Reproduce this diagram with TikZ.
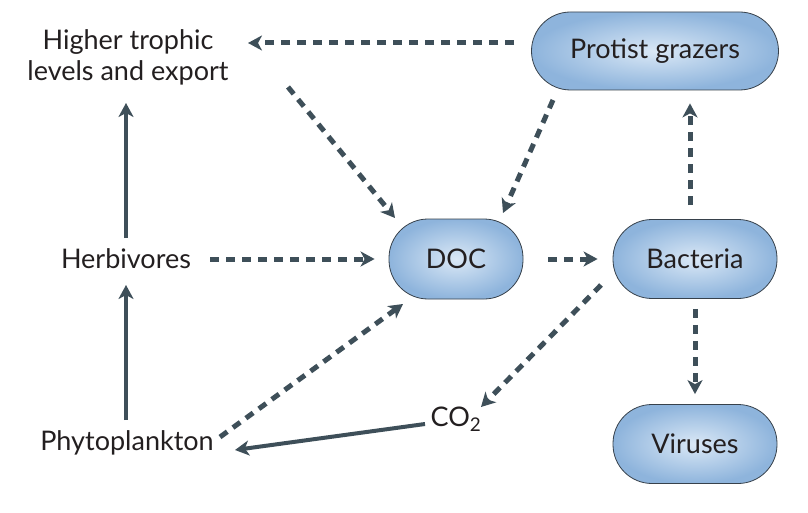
\documentclass[tikz,border=0pt]{standalone}
\usepackage{fontspec}
\setmainfont{Lato}
\usetikzlibrary{arrows.meta,calc}
\definecolor{flowgrey}{RGB}{62,79,89}
\definecolor{boxline}{RGB}{55,65,75}
\definecolor{boxin}{RGB}{218,232,246}
\definecolor{boxout}{RGB}{142,180,220}
\definecolor{ink}{RGB}{35,31,32}

\begin{document}
\begin{tikzpicture}[x=1pt,y=-1pt,
    pool/.style={draw=boxline, line width=0.8pt, rounded corners=39pt,
      shading=radial, inner color=boxin, outer color=boxout,
      minimum width=164pt, minimum height=79pt, text=ink,
      font=\fontsize{27}{31}\selectfont},
    plain/.style={text=ink, align=center, font=\fontsize{27}{31}\selectfont},
    flow/.style={draw=flowgrey, line width=4pt,
      -{Stealth[length=14pt,width=15pt,inset=4pt]}},
    dflow/.style={flow, line width=5pt, dash pattern=on 9pt off 7pt}]
    \useasboundingbox (0,0) rectangle (808,513);

    % boxes
    \node[pool, minimum width=247pt, minimum height=78pt] (protist) at (655,51) {Protist grazers};
    \node[pool, minimum width=134pt, minimum height=80pt] (doc) at (456,259) {DOC};
    \node[pool] (bact) at (695,259) {Bacteria};
    \node[pool] (viruses) at (695,444) {Viruses};

    % free text
    \node[plain] (higher) at (128,57) {Higher trophic\\levels and export};
    \node[plain] (herb) at (126,259) {Herbivores};
    \node[plain] (phyto) at (127,443) {Phytoplankton};
    \node[plain] (co2) at (456,419) {CO\textsubscript{2}};

    % solid fluxes
    \draw[flow] ($(herb)+(0,-21)$) -- ($(herb |- higher)+(0,46)$);
    \draw[flow] ($(phyto)+(-1,-23)$) -- ($(herb)+(0,26)$);
    \draw[flow] ($(co2)+(-31,5)$) -- ($(phyto)+(108,7)$);

    % dashed fluxes
    \draw[dflow] ($(protist.west)+(-17,-8)$) -- ($(higher)+(120,-14)$);
    \draw[dflow] ($(higher)+(160,30)$) -- ($(doc)+(-61,-41)$);
    \draw[dflow] ($(protist)+(-102,49)$) -- ($(doc)+(47,-46)$);
    \draw[dflow] ($(herb)+(84,0)$) -- ($(doc.west)+(-14,0)$);
    \draw[dflow] ($(doc.east)+(25,0)$) -- ($(bact.west)+(-15,0)$);
    \draw[dflow] ($(bact.north)+(-5,-14)$) -- ($(bact.north |- protist.south)+(-5,13)$);
    \draw[dflow] ($(bact.south)+(0,10)$) -- ($(viruses.north)+(0,-10)$);
    \draw[dflow] ($(bact)+(-94,26)$) -- ($(co2)+(25,-12)$);
    \draw[dflow] ($(phyto)+(93,-6)$) -- ($(doc)+(-53,45)$);
\end{tikzpicture}
\end{document}
